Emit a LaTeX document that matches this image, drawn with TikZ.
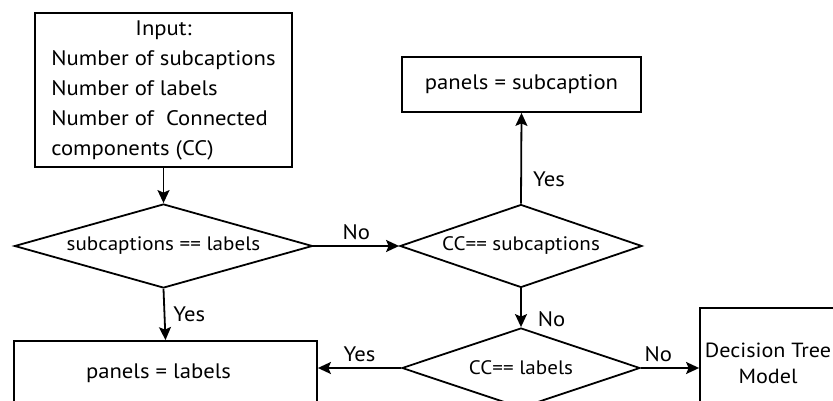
\documentclass[tikz,border=0pt]{standalone}
\usepackage{fontspec}
\setmainfont{PT Sans}[FakeStretch=1.08]
\usetikzlibrary{shapes.geometric,arrows.meta}
\begin{document}
\begin{tikzpicture}[x=1pt,y=-1pt, line width=1.8pt,
  >={Stealth[length=13pt,width=12pt,inset=2.5pt]},
  box/.style={draw, rectangle, inner sep=0pt},
  dec/.style={draw, diamond, inner sep=0pt, font=\fontsize{19.5}{24}\selectfont},
  lbl/.style={font=\fontsize{21}{24}\selectfont, inner sep=0pt}]
\useasboundingbox (0,0) rectangle (833,401);
\clip (0,0) rectangle (833,401);
\node[box, minimum width=257pt, minimum height=154pt, font=\fontsize{21}{30}\selectfont] (in) at (163.5,90)
  {\begin{tabular}{@{}l@{}}\multicolumn{1}{@{}c@{}}{Input:}\\ Number of subcaptions\\ Number of labels\\ Number of\ \ Connected\\ components (CC)\end{tabular}};
\node[dec, aspect=3.548, minimum width=298pt, minimum height=84pt] (d1) at (163.5,246) {subcaptions == labels};
\node[dec, aspect=2.916, minimum width=242pt, minimum height=83pt] (d2) at (521,246) {CC== subcaptions};
\node[dec, aspect=2.975, minimum width=238pt, minimum height=80pt] (d3) at (521,368) {CC== labels};
\node[box, minimum width=239pt, minimum height=55pt, font=\fontsize{21}{26}\selectfont] (sb) at (521.5,84.5) {panels = subcaption};
\node[box, minimum width=303pt, minimum height=64pt, font=\fontsize{21}{26}\selectfont] (lb) at (165.5,373) {panels = labels\hspace*{14pt}};
\node[box, minimum width=136pt, minimum height=110pt, align=center, font=\fontsize{20.5}{26}\selectfont] (dt) at (768,363) {Decision Tree\\Model};
\draw[->] (in.south) -- (d1.north);
\draw[->] (d1.east) -- (d2.west) node[lbl, midway, above=5pt] {No};
\draw[->] (d1.south) -- (lb.north) node[lbl, midway, right=8pt] {Yes};
\draw[->] (d2.north) -- (sb.south) node[lbl, pos=0.27, right=11pt] {Yes};
\draw[->] (d2.south) -- (d3.north) node[lbl, pos=0.8, right=16pt] {No};
\draw[->] (d3.west) -- (d3.west -| lb.east) node[lbl, midway, above=5pt] {Yes};
\draw[->] (d3.east) -- (d3.east -| dt.west) node[lbl, pos=0.3, above=5pt] {No};
\end{tikzpicture}
\end{document}
